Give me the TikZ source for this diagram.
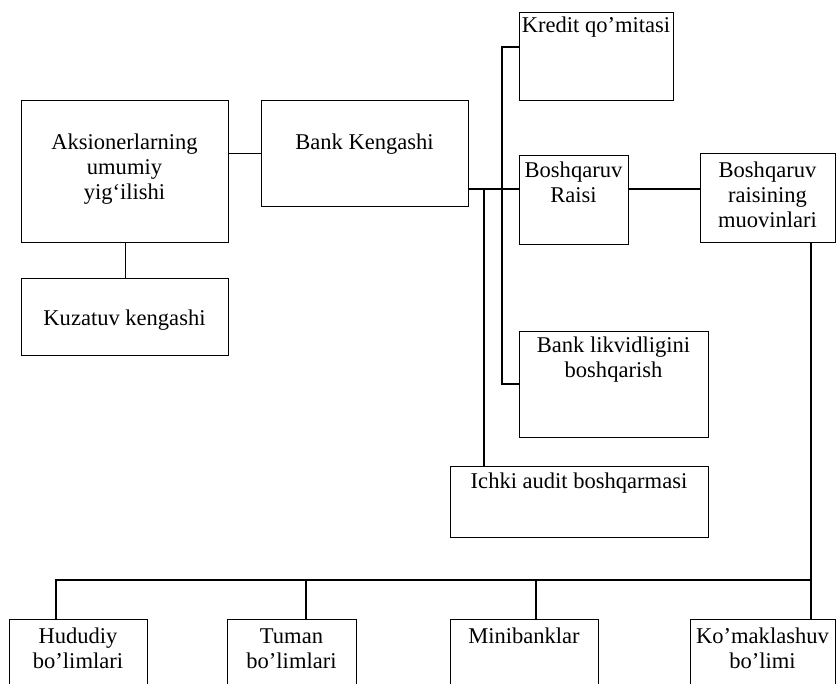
\documentclass[tikz,border=0pt]{standalone}
\usepackage{fontspec}
\setmainfont{Liberation Serif}
\begin{document}
\begin{tikzpicture}[x=0.75pt,y=-0.75pt,
  box/.style={draw,line width=0.9pt,rectangle,inner sep=0pt,anchor=north west},
  txt/.style={inner sep=0pt,align=center,anchor=base,font=\fontsize{16.9pt}{18.75pt}\selectfont},
  con/.style={line width=0.9pt}]
\useasboundingbox (0,0) rectangle (836,683);
\begin{scope}
\clip (0,0) rectangle (836,683);
% boxes
\node[box,minimum width=155.25pt,minimum height=106.5pt] (aks) at (21,100) {};
\node[box,minimum width=155.25pt,minimum height=79.5pt] (bank) at (261,100) {};
\node[box,minimum width=155.25pt,minimum height=57.75pt] (kuz) at (21,278) {};
\node[box,minimum width=115.5pt,minimum height=66pt] (kredit) at (519,12) {};
\node[box,minimum width=81.75pt,minimum height=66.75pt] (raisi) at (519,155) {};
\node[box,minimum width=101.25pt,minimum height=66.75pt] (muov) at (700,153) {};
\node[box,minimum width=141.75pt,minimum height=79.5pt] (likvid) at (519,331) {};
\node[box,minimum width=193.5pt,minimum height=53.25pt] (ichki) at (450,466) {};
\node[box,minimum width=103.5pt,minimum height=60.75pt] (hud) at (9,619) {};
\node[box,minimum width=96.75pt,minimum height=60.75pt] (tum) at (227,619) {};
\node[box,minimum width=111pt,minimum height=60.75pt] (mini) at (450,619) {};
\node[box,minimum width=108.75pt,minimum height=60.75pt] (kom) at (690,619) {};
% texts (anchor = baseline of the last line)
\node[txt] (aks-t) at (124.5,199) {Aksionerlarning\\umumiy\\yig‘ilishi};
\node[txt] (bank-t) at (364.5,149) {Bank Kengashi};
\node[txt] (kuz-t) at (124.5,325) {Kuzatuv kengashi};
\node[txt] (kredit-t) at (596,32) {Kredit qo’mitasi};
\node[txt] (raisi-t) at (573.5,202) {Boshqaruv\\Raisi};
\node[txt] (muov-t) at (767.5,227) {Boshqaruv\\raisining\\muovinlari};
\node[txt] (likvid-t) at (613.5,377) {Bank likvidligini\\boshqarish};
\node[txt] (ichki-t) at (579,488) {Ichki audit boshqarmasi};
\node[txt] (hud-t) at (78,668) {Hududiy\\bo’limlari};
\node[txt] (tum-t) at (291.5,668) {Tuman\\bo’limlari};
\node[txt] (mini-t) at (524,643) {Minibanklar};
\node[txt] (kom-t) at (762.5,668) {Ko’maklashuv\\bo’limi};
% junction coordinates
\coordinate (bj) at (468,189);
\coordinate (ja) at (484,189);
\coordinate (jk) at (502,47);
\coordinate (jl) at (502,384);
\coordinate (rj) at (628,189);
\coordinate (mj) at (811,242);
\coordinate (hj) at (811,580);
\coordinate (hl) at (56,580);
% connectors
\draw[con] (bank.west) -- (bank.west -| aks.east);
\draw[con] (aks.south) -- (kuz.north);
\draw[con] (bj) -- (bj -| raisi.west);
\draw[con] (ja) -- (ja |- ichki.north);
\draw[con] (jk -| kredit.west) -- (jk) -- (jl) -- (jl -| likvid.west);
\draw[con] (rj) -- (rj -| muov.west);
\draw[con] (mj) -- (mj |- kom.north);
\draw[con] (hj) -- (hl) -- (hl |- hud.north);
\draw[con] (306,580) -- (306,580 |- tum.north);
\draw[con] (536,580) -- (536,580 |- mini.north);
\end{scope}
\end{tikzpicture}
\end{document}
